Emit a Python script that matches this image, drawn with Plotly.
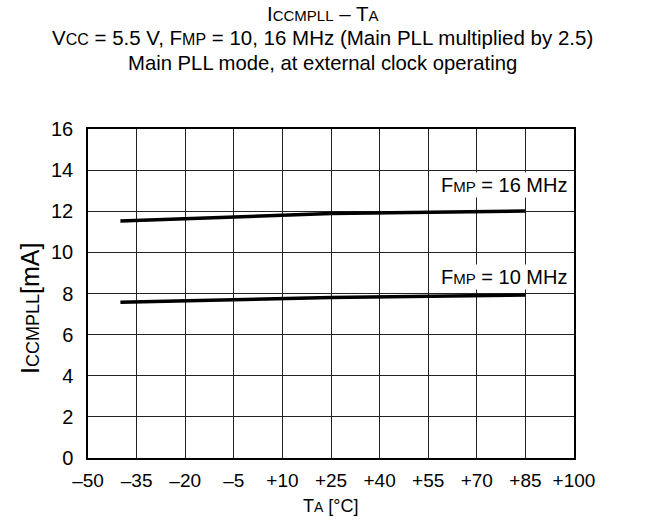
import plotly.graph_objects as go

# ---- data ----
temps = [-40, 25, 85]
i_16mhz = [11.53, 11.89, 12.01]
i_10mhz = [7.57, 7.80, 7.93]

x_tickvals = [-50, -35, -20, -5, 10, 25, 40, 55, 70, 85, 100]
x_ticktext = ["\u201350", "\u201335", "\u201320", "\u20135", "+10", "+25", "+40", "+55", "+70", "+85", "+100"]
y_tickvals = [0, 2, 4, 6, 8, 10, 12, 14, 16]
y_ticktext = ["0", "2", "4", "6", "8", "10", "12", "14", "16"]

FONT = "Liberation Sans, Arial, Helvetica, sans-serif"


def sub(t, size=15):
    return '<span style="font-size:%dpx">%s</span>' % (size, t)


fig = go.Figure()
fig.add_trace(go.Scatter(x=temps, y=i_16mhz, mode="lines",
                         line=dict(color="black", width=3.5), showlegend=False))
fig.add_trace(go.Scatter(x=temps, y=i_10mhz, mode="lines",
                         line=dict(color="black", width=3.5), showlegend=False))

W, H = 645, 527
PL, PR, PT, PB = 88, 574, 129, 458  # plot frame in pixels
L, T, R, B = PL, PT, W - PR, H - PB
pw, ph = PR - PL, PB - PT


def px_x(px):
    return (px - PL) / pw


def px_y(py):
    return (PB - py) / ph


annotations = [
    dict(text="I" + sub("CCMPLL") + " \u2013 T" + sub("A"),
         x=px_x(322.5), y=px_y(13), font=dict(size=20.5)),
    dict(text="V" + sub("CC", 16) + " = 5.5 V, F" + sub("MP", 16)
         + " = 10, 16 MHz (Main PLL multiplied by 2.5)",
         x=px_x(322.5), y=px_y(38), font=dict(size=20.5)),
    dict(text="Main PLL mode, at external clock operating",
         x=px_x(322.5), y=px_y(63), font=dict(size=20.3)),
    dict(text="I" + sub("CCMPLL", 18) + "[mA]",
         x=px_x(30), y=px_y(309), textangle=-90, font=dict(size=25)),
    dict(text="T" + sub("A", 14) + " [\u00b0C]",
         x=px_x(331), y=px_y(506), font=dict(size=18)),
    dict(text="F" + sub("MP") + " = 16 MHz",
         x=px_x(569), y=px_y(185), xanchor="right", font=dict(size=20),
         bgcolor="white", borderpad=1),
    dict(text="F" + sub("MP") + " = 10 MHz",
         x=px_x(569), y=px_y(277), xanchor="right", font=dict(size=20),
         bgcolor="white", borderpad=1),
]
for a in annotations:
    a.setdefault("xanchor", "center")
    a.setdefault("yanchor", "middle")
    a.update(xref="paper", yref="paper", showarrow=False)
    a["font"].update(family=FONT, color="black")

fig.update_layout(
    width=W, height=H,
    margin=dict(l=L, r=R, t=T, b=B, pad=0),
    paper_bgcolor="white", plot_bgcolor="white",
    font=dict(family=FONT, color="black", size=19),
    annotations=annotations,
    xaxis=dict(range=[-50, 100], tickvals=x_tickvals, ticktext=x_ticktext,
               showgrid=True, gridcolor="#222", gridwidth=1,
               showline=True, linecolor="black", linewidth=1.5, mirror=True,
               zeroline=False, ticks="", ticklabelstandoff=4,
               tickfont=dict(size=19)),
    yaxis=dict(range=[0, 16], tickvals=y_tickvals, ticktext=y_ticktext,
               showgrid=True, gridcolor="#222", gridwidth=1,
               showline=True, linecolor="black", linewidth=1.5, mirror=True,
               zeroline=False, ticks="", ticklabelstandoff=9,
               tickfont=dict(size=20)),
)

fig.write_html("out.html",
               config={"displayModeBar": False},
               post_script="document.body.style.margin='0';")
